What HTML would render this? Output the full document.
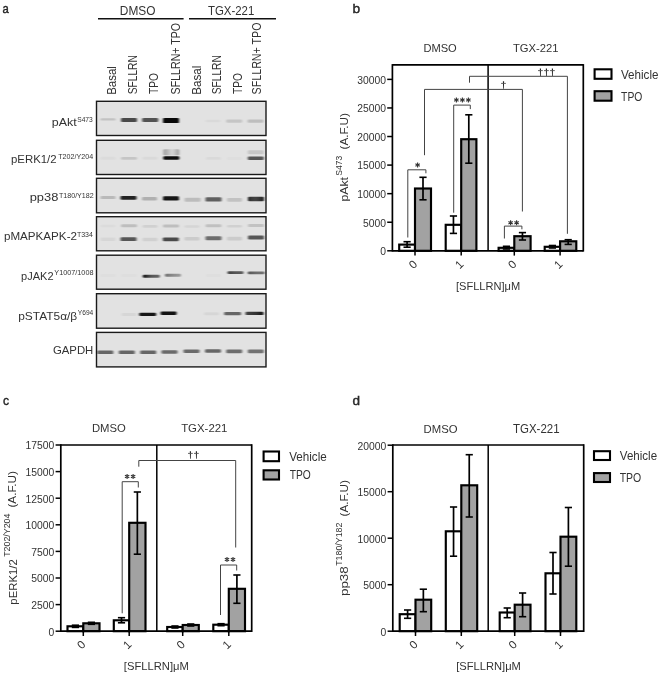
<!DOCTYPE html>
<html><head><meta charset="utf-8"><title>Figure</title>
<style>
html,body{margin:0;padding:0;background:#fff;width:660px;height:675px;overflow:hidden;}
svg{display:block;will-change:transform;}
text{font-family:"Liberation Sans",sans-serif;fill:#333;}
</style></head><body>
<svg width="660" height="675" viewBox="0 0 660 675">
<defs><filter id="bl" x="-30%" y="-100%" width="160%" height="300%"><feGaussianBlur stdDeviation="0.9 0.65"/></filter></defs>
<rect width="660" height="675" fill="#fff"/>
<text x="2.55" y="12.70" font-size="12.59" textLength="6.26" lengthAdjust="spacingAndGlyphs" stroke="#111" stroke-width="0.4" fill="#111">a</text>
<text x="119.85" y="15.00" font-size="12.29" textLength="35.65" lengthAdjust="spacingAndGlyphs">DMSO</text>
<text x="207.97" y="15.20" font-size="12.86" textLength="46.32" lengthAdjust="spacingAndGlyphs">TGX-221</text>
<line x1="98" y1="18.8" x2="183.6" y2="18.8" stroke="#111" stroke-width="1.5"/>
<line x1="189" y1="18.8" x2="276" y2="18.8" stroke="#111" stroke-width="1.5"/>
<text transform="translate(116.40,94.82) rotate(-90)" font-size="12.20" textLength="28.68" lengthAdjust="spacingAndGlyphs">Basal</text>
<text transform="translate(137.30,94.36) rotate(-90)" font-size="12.20" textLength="39.23" lengthAdjust="spacingAndGlyphs">SFLLRN</text>
<text transform="translate(158.00,94.10) rotate(-90)" font-size="12.20" textLength="20.97" lengthAdjust="spacingAndGlyphs">TPO</text>
<text transform="translate(179.80,94.38) rotate(-90)" font-size="12.20" textLength="71.50" lengthAdjust="spacingAndGlyphs">SFLLRN+ TPO</text>
<text transform="translate(201.10,94.83) rotate(-90)" font-size="12.20" textLength="29.11" lengthAdjust="spacingAndGlyphs">Basal</text>
<text transform="translate(221.30,94.36) rotate(-90)" font-size="12.20" textLength="39.23" lengthAdjust="spacingAndGlyphs">SFLLRN</text>
<text transform="translate(241.70,94.10) rotate(-90)" font-size="12.20" textLength="20.97" lengthAdjust="spacingAndGlyphs">TPO</text>
<text transform="translate(261.20,94.38) rotate(-90)" font-size="12.20" textLength="71.90" lengthAdjust="spacingAndGlyphs">SFLLRN+ TPO</text>
<rect x="96.5" y="101.3" width="169.5" height="34.2" fill="#e2e2e2" stroke="#1a1a1a" stroke-width="1.4"/>
<rect x="96.5" y="140.3" width="169.5" height="34.19999999999999" fill="#e2e2e2" stroke="#1a1a1a" stroke-width="1.4"/>
<rect x="96.5" y="178.3" width="169.5" height="34.5" fill="#e2e2e2" stroke="#1a1a1a" stroke-width="1.4"/>
<rect x="96.5" y="216.7" width="169.5" height="34.10000000000002" fill="#e2e2e2" stroke="#1a1a1a" stroke-width="1.4"/>
<rect x="96.5" y="255.2" width="169.5" height="34.0" fill="#e2e2e2" stroke="#1a1a1a" stroke-width="1.4"/>
<rect x="96.5" y="293.7" width="169.5" height="34.5" fill="#e2e2e2" stroke="#1a1a1a" stroke-width="1.4"/>
<rect x="96.5" y="332.4" width="169.5" height="34.5" fill="#e2e2e2" stroke="#1a1a1a" stroke-width="1.4"/>
<rect x="100.5" y="118.2" width="15.0" height="2.4" rx="1.2" fill="#000" fill-opacity="0.14" filter="url(#bl)"/>
<rect x="121.0" y="118.1" width="16.0" height="3.8" rx="1.2" fill="#000" fill-opacity="0.68" filter="url(#bl)"/>
<rect x="142.2" y="118.1" width="16.0" height="3.8" rx="1.2" fill="#000" fill-opacity="0.64" filter="url(#bl)"/>
<rect x="163.0" y="118.1" width="16.0" height="5.0" rx="1.2" fill="#000" fill-opacity="0.97" filter="url(#bl)"/>
<rect x="205.5" y="119.8" width="15.0" height="2.5" rx="1.2" fill="#000" fill-opacity="0.04" filter="url(#bl)"/>
<rect x="226.2" y="119.6" width="16.0" height="3.2" rx="1.2" fill="#000" fill-opacity="0.13" filter="url(#bl)"/>
<rect x="247.5" y="119.6" width="16.0" height="3.2" rx="1.2" fill="#000" fill-opacity="0.16" filter="url(#bl)"/>
<rect x="100.5" y="156.8" width="15.0" height="3.0" rx="1.2" fill="#000" fill-opacity="0.03" filter="url(#bl)"/>
<rect x="121.0" y="157.0" width="16.0" height="2.8" rx="1.2" fill="#000" fill-opacity="0.13" filter="url(#bl)"/>
<rect x="142.5" y="156.8" width="15.0" height="3.0" rx="1.2" fill="#000" fill-opacity="0.04" filter="url(#bl)"/>
<rect x="163.3" y="156.2" width="16.0" height="3.6" rx="1.2" fill="#000" fill-opacity="0.95" filter="url(#bl)"/>
<linearGradient id="g1"><stop offset="0" stop-color="#000" stop-opacity="0.3"/><stop offset="0.35" stop-color="#000" stop-opacity="0.15"/><stop offset="0.55" stop-color="#000" stop-opacity="0.05"/><stop offset="0.75" stop-color="#000" stop-opacity="0.15"/><stop offset="1" stop-color="#000" stop-opacity="0.3"/></linearGradient>
<rect x="163.3" y="149.3" width="16.0" height="6.0" rx="1.2" fill="url(#g1)" filter="url(#bl)"/>
<rect x="206.0" y="157.0" width="15.0" height="2.8" rx="1.2" fill="#000" fill-opacity="0.04" filter="url(#bl)"/>
<rect x="227.0" y="156.9" width="15.0" height="3.0" rx="1.2" fill="#000" fill-opacity="0.02" filter="url(#bl)"/>
<rect x="247.8" y="156.5" width="16.0" height="3.4" rx="1.2" fill="#000" fill-opacity="0.62" filter="url(#bl)"/>
<rect x="247.8" y="150.3" width="16.0" height="4.0" rx="1.2" fill="#000" fill-opacity="0.12" filter="url(#bl)"/>
<rect x="100.5" y="196.1" width="15.0" height="3.0" rx="1.2" fill="#000" fill-opacity="0.18" filter="url(#bl)"/>
<rect x="120.5" y="195.9" width="16.0" height="3.8" rx="1.2" fill="#000" fill-opacity="0.85" filter="url(#bl)"/>
<rect x="142.0" y="197.1" width="15.0" height="3.4" rx="1.2" fill="#000" fill-opacity="0.22" filter="url(#bl)"/>
<rect x="163.0" y="196.3" width="16.0" height="4.2" rx="1.2" fill="#000" fill-opacity="0.90" filter="url(#bl)"/>
<rect x="184.6" y="197.8" width="16.0" height="4.0" rx="1.2" fill="#000" fill-opacity="0.17" filter="url(#bl)"/>
<rect x="205.5" y="197.2" width="16.0" height="4.4" rx="1.2" fill="#000" fill-opacity="0.58" filter="url(#bl)"/>
<rect x="227.0" y="197.9" width="15.0" height="3.8" rx="1.2" fill="#000" fill-opacity="0.14" filter="url(#bl)"/>
<linearGradient id="g2"><stop offset="0" stop-color="#000" stop-opacity="0.9"/><stop offset="0.15" stop-color="#000" stop-opacity="0.75"/><stop offset="0.5" stop-color="#000" stop-opacity="0.7"/><stop offset="1" stop-color="#000" stop-opacity="0.85"/></linearGradient>
<rect x="248.0" y="196.7" width="16.0" height="4.6" rx="1.2" fill="url(#g2)" filter="url(#bl)"/>
<rect x="100.5" y="224.7" width="15.0" height="2.6" rx="1.2" fill="#000" fill-opacity="0.03" filter="url(#bl)"/>
<rect x="121.0" y="224.3" width="16.0" height="3.0" rx="1.2" fill="#000" fill-opacity="0.16" filter="url(#bl)"/>
<rect x="142.5" y="225.1" width="15.0" height="2.6" rx="1.2" fill="#000" fill-opacity="0.08" filter="url(#bl)"/>
<rect x="163.0" y="224.5" width="16.0" height="3.0" rx="1.2" fill="#000" fill-opacity="0.16" filter="url(#bl)"/>
<rect x="184.5" y="225.2" width="15.0" height="2.6" rx="1.2" fill="#000" fill-opacity="0.06" filter="url(#bl)"/>
<rect x="205.5" y="224.3" width="16.0" height="3.0" rx="1.2" fill="#000" fill-opacity="0.15" filter="url(#bl)"/>
<rect x="227.0" y="224.9" width="15.0" height="2.6" rx="1.2" fill="#000" fill-opacity="0.08" filter="url(#bl)"/>
<rect x="248.0" y="224.1" width="16.0" height="3.0" rx="1.2" fill="#000" fill-opacity="0.14" filter="url(#bl)"/>
<rect x="100.5" y="237.6" width="15.0" height="3.4" rx="1.2" fill="#000" fill-opacity="0.05" filter="url(#bl)"/>
<rect x="120.5" y="237.3" width="16.0" height="3.8" rx="1.2" fill="#000" fill-opacity="0.62" filter="url(#bl)"/>
<rect x="142.5" y="237.8" width="15.0" height="3.4" rx="1.2" fill="#000" fill-opacity="0.08" filter="url(#bl)"/>
<rect x="162.8" y="237.4" width="16.0" height="3.8" rx="1.2" fill="#000" fill-opacity="0.68" filter="url(#bl)"/>
<rect x="184.5" y="237.0" width="15.0" height="3.6" rx="1.2" fill="#000" fill-opacity="0.10" filter="url(#bl)"/>
<rect x="205.5" y="236.3" width="16.0" height="4.0" rx="1.2" fill="#000" fill-opacity="0.52" filter="url(#bl)"/>
<rect x="227.0" y="236.8" width="15.0" height="3.6" rx="1.2" fill="#000" fill-opacity="0.10" filter="url(#bl)"/>
<rect x="248.0" y="235.6" width="16.0" height="3.8" rx="1.2" fill="#000" fill-opacity="0.62" filter="url(#bl)"/>
<rect x="100.5" y="274.0" width="15.0" height="3.0" rx="1.2" fill="#000" fill-opacity="0.02" filter="url(#bl)"/>
<rect x="121.5" y="274.0" width="15.0" height="3.0" rx="1.2" fill="#000" fill-opacity="0.02" filter="url(#bl)"/>
<linearGradient id="g3"><stop offset="0" stop-color="#000" stop-opacity="0.95"/><stop offset="0.2" stop-color="#000" stop-opacity="0.8"/><stop offset="0.5" stop-color="#000" stop-opacity="0.62"/><stop offset="1" stop-color="#000" stop-opacity="0.55"/></linearGradient>
<rect x="142.8" y="274.8" width="17.0" height="2.9" rx="1.2" fill="url(#g3)" filter="url(#bl)"/>
<linearGradient id="g4"><stop offset="0" stop-color="#000" stop-opacity="0.5"/><stop offset="0.5" stop-color="#000" stop-opacity="0.38"/><stop offset="1" stop-color="#000" stop-opacity="0.3"/></linearGradient>
<rect x="165.0" y="273.7" width="16.0" height="3.0" rx="1.2" fill="url(#g4)" filter="url(#bl)"/>
<rect x="206.0" y="274.0" width="15.0" height="3.0" rx="1.2" fill="#000" fill-opacity="0.02" filter="url(#bl)"/>
<linearGradient id="g5"><stop offset="0" stop-color="#000" stop-opacity="0.72"/><stop offset="0.5" stop-color="#000" stop-opacity="0.62"/><stop offset="1" stop-color="#000" stop-opacity="0.6"/></linearGradient>
<rect x="227.5" y="271.2" width="16.0" height="2.8" rx="1.2" fill="url(#g5)" filter="url(#bl)"/>
<linearGradient id="g6"><stop offset="0" stop-color="#000" stop-opacity="0.62"/><stop offset="0.5" stop-color="#000" stop-opacity="0.52"/><stop offset="1" stop-color="#000" stop-opacity="0.5"/></linearGradient>
<rect x="247.7" y="271.4" width="17.0" height="2.8" rx="1.2" fill="url(#g6)" filter="url(#bl)"/>
<rect x="121.5" y="312.9" width="15.0" height="3.0" rx="1.2" fill="#000" fill-opacity="0.05" filter="url(#bl)"/>
<rect x="139.2" y="312.7" width="17.0" height="3.2" rx="1.2" fill="#000" fill-opacity="0.90" filter="url(#bl)"/>
<rect x="160.6" y="311.6" width="16.0" height="3.4" rx="1.2" fill="#000" fill-opacity="0.92" filter="url(#bl)"/>
<rect x="204.0" y="312.3" width="15.0" height="3.0" rx="1.2" fill="#000" fill-opacity="0.05" filter="url(#bl)"/>
<rect x="224.1" y="312.0" width="17.0" height="3.2" rx="1.2" fill="#000" fill-opacity="0.55" filter="url(#bl)"/>
<linearGradient id="g7"><stop offset="0" stop-color="#000" stop-opacity="0.7"/><stop offset="0.6" stop-color="#000" stop-opacity="0.78"/><stop offset="1" stop-color="#000" stop-opacity="0.92"/></linearGradient>
<rect x="245.5" y="311.7" width="18.0" height="3.4" rx="1.2" fill="url(#g7)" filter="url(#bl)"/>
<rect x="97.3" y="350.5" width="16.0" height="3.6" rx="1.2" fill="#000" fill-opacity="0.55" filter="url(#bl)"/>
<rect x="118.8" y="350.5" width="16.0" height="3.6" rx="1.2" fill="#000" fill-opacity="0.55" filter="url(#bl)"/>
<rect x="140.2" y="350.5" width="16.0" height="3.6" rx="1.2" fill="#000" fill-opacity="0.55" filter="url(#bl)"/>
<rect x="161.5" y="350.2" width="16.0" height="3.6" rx="1.2" fill="#000" fill-opacity="0.53" filter="url(#bl)"/>
<rect x="183.5" y="349.4" width="16.0" height="3.6" rx="1.2" fill="#000" fill-opacity="0.53" filter="url(#bl)"/>
<rect x="205.0" y="349.2" width="16.0" height="3.6" rx="1.2" fill="#000" fill-opacity="0.55" filter="url(#bl)"/>
<rect x="226.2" y="349.6" width="16.0" height="3.6" rx="1.2" fill="#000" fill-opacity="0.52" filter="url(#bl)"/>
<rect x="247.8" y="349.6" width="16.0" height="3.6" rx="1.2" fill="#000" fill-opacity="0.50" filter="url(#bl)"/>
<text x="51.89" y="125.80" font-size="11.80" textLength="24.88" lengthAdjust="spacingAndGlyphs">pAkt</text>
<text x="77.20" y="122.00" font-size="7.60" textLength="15.57" lengthAdjust="spacingAndGlyphs">S473</text>
<text x="10.96" y="162.70" font-size="11.80" textLength="45.64" lengthAdjust="spacingAndGlyphs">pERK1/2</text>
<text x="58.26" y="158.70" font-size="7.60" textLength="34.88" lengthAdjust="spacingAndGlyphs">T202/Y204</text>
<text x="29.66" y="200.80" font-size="11.80" textLength="28.65" lengthAdjust="spacingAndGlyphs">pp38</text>
<text x="58.96" y="197.50" font-size="7.60" textLength="34.72" lengthAdjust="spacingAndGlyphs">T180/Y182</text>
<text x="3.94" y="240.30" font-size="11.80" textLength="73.04" lengthAdjust="spacingAndGlyphs">pMAPKAPK-2</text>
<text x="76.96" y="236.60" font-size="7.60" textLength="15.95" lengthAdjust="spacingAndGlyphs">T334</text>
<text x="21.08" y="279.80" font-size="11.80" textLength="32.48" lengthAdjust="spacingAndGlyphs">pJAK2</text>
<text x="54.32" y="275.20" font-size="7.60" textLength="39.17" lengthAdjust="spacingAndGlyphs">Y1007/1008</text>
<text x="18.23" y="319.80" font-size="11.80" textLength="58.96" lengthAdjust="spacingAndGlyphs">pSTAT5α/β</text>
<text x="77.83" y="315.40" font-size="7.60" textLength="15.47" lengthAdjust="spacingAndGlyphs">Y694</text>
<text x="52.93" y="354.20" font-size="11.80" textLength="40.39" lengthAdjust="spacingAndGlyphs">GAPDH</text>
<rect x="399.2" y="244.6" width="15.800000000000011" height="6.200000000000017" fill="#fff" stroke="#000" stroke-width="2.15"/>
<rect x="445.7" y="224.8" width="15.5" height="26.0" fill="#fff" stroke="#000" stroke-width="2.15"/>
<rect x="498.6" y="247.8" width="15.699999999999932" height="3.0" fill="#fff" stroke="#000" stroke-width="2.15"/>
<rect x="544.7" y="246.8" width="15.399999999999977" height="4.0" fill="#fff" stroke="#000" stroke-width="2.15"/>
<rect x="415" y="188.5" width="16" height="62.30000000000001" fill="#a2a2a2" stroke="#000" stroke-width="2.15"/>
<rect x="461.2" y="139.2" width="15.199999999999989" height="111.60000000000002" fill="#a2a2a2" stroke="#000" stroke-width="2.15"/>
<rect x="514.3" y="236.2" width="16.300000000000068" height="14.600000000000023" fill="#a2a2a2" stroke="#000" stroke-width="2.15"/>
<rect x="560.1" y="241.3" width="16.199999999999932" height="9.5" fill="#a2a2a2" stroke="#000" stroke-width="2.15"/>
<line x1="407.1" y1="241.7" x2="407.1" y2="247.2" stroke="#000" stroke-width="1.7"/>
<line x1="403.5" y1="241.7" x2="410.70000000000005" y2="241.7" stroke="#000" stroke-width="1.6"/>
<line x1="403.5" y1="247.2" x2="410.70000000000005" y2="247.2" stroke="#000" stroke-width="1.6"/>
<line x1="453.45" y1="216.0" x2="453.45" y2="233.4" stroke="#000" stroke-width="1.7"/>
<line x1="449.84999999999997" y1="216.0" x2="457.05" y2="216.0" stroke="#000" stroke-width="1.6"/>
<line x1="449.84999999999997" y1="233.4" x2="457.05" y2="233.4" stroke="#000" stroke-width="1.6"/>
<line x1="506.45" y1="246.3" x2="506.45" y2="249.0" stroke="#000" stroke-width="1.7"/>
<line x1="502.84999999999997" y1="246.3" x2="510.05" y2="246.3" stroke="#000" stroke-width="1.6"/>
<line x1="502.84999999999997" y1="249.0" x2="510.05" y2="249.0" stroke="#000" stroke-width="1.6"/>
<line x1="552.4000000000001" y1="245.5" x2="552.4000000000001" y2="248.0" stroke="#000" stroke-width="1.7"/>
<line x1="548.8000000000001" y1="245.5" x2="556.0000000000001" y2="245.5" stroke="#000" stroke-width="1.6"/>
<line x1="548.8000000000001" y1="248.0" x2="556.0000000000001" y2="248.0" stroke="#000" stroke-width="1.6"/>
<line x1="423.0" y1="177.3" x2="423.0" y2="199.8" stroke="#000" stroke-width="1.7"/>
<line x1="419.4" y1="177.3" x2="426.6" y2="177.3" stroke="#000" stroke-width="1.6"/>
<line x1="419.4" y1="199.8" x2="426.6" y2="199.8" stroke="#000" stroke-width="1.6"/>
<line x1="468.79999999999995" y1="114.8" x2="468.79999999999995" y2="163.2" stroke="#000" stroke-width="1.7"/>
<line x1="465.19999999999993" y1="114.8" x2="472.4" y2="114.8" stroke="#000" stroke-width="1.6"/>
<line x1="465.19999999999993" y1="163.2" x2="472.4" y2="163.2" stroke="#000" stroke-width="1.6"/>
<line x1="522.45" y1="232.6" x2="522.45" y2="240.0" stroke="#000" stroke-width="1.7"/>
<line x1="518.85" y1="232.6" x2="526.0500000000001" y2="232.6" stroke="#000" stroke-width="1.6"/>
<line x1="518.85" y1="240.0" x2="526.0500000000001" y2="240.0" stroke="#000" stroke-width="1.6"/>
<line x1="568.2" y1="239.7" x2="568.2" y2="244.4" stroke="#000" stroke-width="1.7"/>
<line x1="564.6" y1="239.7" x2="571.8000000000001" y2="239.7" stroke="#000" stroke-width="1.6"/>
<line x1="564.6" y1="244.4" x2="571.8000000000001" y2="244.4" stroke="#000" stroke-width="1.6"/>
<line x1="392.4" y1="64.9" x2="583.3" y2="64.9" stroke="#000" stroke-width="1.7"/>
<line x1="392.4" y1="250.8" x2="583.3" y2="250.8" stroke="#000" stroke-width="1.7"/>
<line x1="392.4" y1="64.10000000000001" x2="392.4" y2="251.60000000000002" stroke="#000" stroke-width="1.7"/>
<line x1="583.3" y1="64.10000000000001" x2="583.3" y2="251.60000000000002" stroke="#000" stroke-width="1.7"/>
<line x1="488.1" y1="64.9" x2="488.1" y2="250.8" stroke="#000" stroke-width="1.5"/>
<line x1="387.2" y1="250.8" x2="392.4" y2="250.8" stroke="#000" stroke-width="1.5"/>
<text x="380.22" y="255.20" font-size="10.90" textLength="5.76" lengthAdjust="spacingAndGlyphs">0</text>
<line x1="387.2" y1="222.23000000000002" x2="392.4" y2="222.23000000000002" stroke="#000" stroke-width="1.5"/>
<text x="362.92" y="226.63" font-size="10.90" textLength="23.04" lengthAdjust="spacingAndGlyphs">5000</text>
<line x1="387.2" y1="193.66000000000003" x2="392.4" y2="193.66000000000003" stroke="#000" stroke-width="1.5"/>
<text x="357.18" y="198.06" font-size="10.90" textLength="28.80" lengthAdjust="spacingAndGlyphs">10000</text>
<line x1="387.2" y1="165.09" x2="392.4" y2="165.09" stroke="#000" stroke-width="1.5"/>
<text x="357.18" y="169.49" font-size="10.90" textLength="28.80" lengthAdjust="spacingAndGlyphs">15000</text>
<line x1="387.2" y1="136.52" x2="392.4" y2="136.52" stroke="#000" stroke-width="1.5"/>
<text x="357.18" y="140.92" font-size="10.90" textLength="28.80" lengthAdjust="spacingAndGlyphs">20000</text>
<line x1="387.2" y1="107.95000000000002" x2="392.4" y2="107.95000000000002" stroke="#000" stroke-width="1.5"/>
<text x="357.18" y="112.35" font-size="10.90" textLength="28.80" lengthAdjust="spacingAndGlyphs">25000</text>
<line x1="387.2" y1="79.38" x2="392.4" y2="79.38" stroke="#000" stroke-width="1.5"/>
<text x="357.18" y="83.78" font-size="10.90" textLength="28.80" lengthAdjust="spacingAndGlyphs">30000</text>
<line x1="415" y1="250.8" x2="415" y2="255.60000000000002" stroke="#000" stroke-width="1.5"/>
<text x="413.00" y="264.30" font-size="11.5" text-anchor="middle" dominant-baseline="central" transform="rotate(-45 413.00 264.30)">0</text>
<line x1="461.2" y1="250.8" x2="461.2" y2="255.60000000000002" stroke="#000" stroke-width="1.5"/>
<text x="459.20" y="264.30" font-size="11.5" text-anchor="middle" dominant-baseline="central" transform="rotate(-45 459.20 264.30)">1</text>
<line x1="514.3" y1="250.8" x2="514.3" y2="255.60000000000002" stroke="#000" stroke-width="1.5"/>
<text x="512.30" y="264.30" font-size="11.5" text-anchor="middle" dominant-baseline="central" transform="rotate(-45 512.30 264.30)">0</text>
<line x1="560.1" y1="250.8" x2="560.1" y2="255.60000000000002" stroke="#000" stroke-width="1.5"/>
<text x="558.10" y="264.30" font-size="11.5" text-anchor="middle" dominant-baseline="central" transform="rotate(-45 558.10 264.30)">1</text>
<rect x="594.6" y="69.3" width="16.899999999999977" height="9.5" fill="#fff" stroke="#000" stroke-width="2.1"/>
<rect x="594.6" y="91.2" width="16.899999999999977" height="9.5" fill="#a2a2a2" stroke="#000" stroke-width="2.1"/>
<polyline points="407.8,237.5 407.8,169.8 425.9,169.8 425.9,173.3" fill="none" stroke="#444" stroke-width="1"/>
<path d="M417.60,162.50V167.50M415.43,163.75L419.77,166.25M415.43,166.25L419.77,163.75" stroke="#333" stroke-width="1.1" fill="none"/>
<polyline points="453.7,212.7 453.7,105.1 470.3,105.1 470.3,109.1" fill="none" stroke="#444" stroke-width="1"/>
<path d="M456.40,97.50V102.50M454.23,98.75L458.57,101.25M454.23,101.25L458.57,98.75" stroke="#333" stroke-width="1.1" fill="none"/>
<path d="M462.40,97.50V102.50M460.23,98.75L464.57,101.25M460.23,101.25L464.57,98.75" stroke="#333" stroke-width="1.1" fill="none"/>
<path d="M468.40,97.50V102.50M466.23,98.75L470.57,101.25M466.23,101.25L470.57,98.75" stroke="#333" stroke-width="1.1" fill="none"/>
<polyline points="424.5,155.2 424.5,89.4 522.4,89.4 522.4,211.5" fill="none" stroke="#444" stroke-width="1"/>
<path d="M502.90,81.20L504.10,81.20L503.85,88.80L503.15,88.80Z" fill="#222"/>
<line x1="501.10" y1="83.40" x2="505.90" y2="83.40" stroke="#555" stroke-width="0.9"/>
<polyline points="469.5,82.7 469.5,76.3 567.4,76.3 567.4,233.8" fill="none" stroke="#444" stroke-width="1"/>
<path d="M539.80,68.40L541.00,68.40L540.75,76.00L540.05,76.00Z" fill="#222"/>
<line x1="538.00" y1="70.60" x2="542.80" y2="70.60" stroke="#555" stroke-width="0.9"/>
<path d="M545.80,68.40L547.00,68.40L546.75,76.00L546.05,76.00Z" fill="#222"/>
<line x1="544.00" y1="70.60" x2="548.80" y2="70.60" stroke="#555" stroke-width="0.9"/>
<path d="M551.80,68.40L553.00,68.40L552.75,76.00L552.05,76.00Z" fill="#222"/>
<line x1="550.00" y1="70.60" x2="554.80" y2="70.60" stroke="#555" stroke-width="0.9"/>
<polyline points="504.4,238.5 504.4,226.1 521.9,226.1 521.9,229.3" fill="none" stroke="#444" stroke-width="1"/>
<path d="M510.60,220.30V225.30M508.43,221.55L512.77,224.05M508.43,224.05L512.77,221.55" stroke="#333" stroke-width="1.1" fill="none"/>
<path d="M516.60,220.30V225.30M514.43,221.55L518.77,224.05M514.43,224.05L518.77,221.55" stroke="#333" stroke-width="1.1" fill="none"/>
<text x="352.40" y="12.70" font-size="13.38" textLength="7.66" lengthAdjust="spacingAndGlyphs" stroke="#111" stroke-width="0.4" fill="#111">b</text>
<text x="423.41" y="51.60" font-size="11.14" textLength="33.35" lengthAdjust="spacingAndGlyphs">DMSO</text>
<text x="512.98" y="51.75" font-size="11.50" textLength="45.56" lengthAdjust="spacingAndGlyphs">TGX-221</text>
<text x="620.94" y="79.00" font-size="12.00" textLength="37.58" lengthAdjust="spacingAndGlyphs">Vehicle</text>
<text x="621.09" y="100.60" font-size="12.43" textLength="21.28" lengthAdjust="spacingAndGlyphs">TPO</text>
<text x="455.92" y="289.60" font-size="11.60" textLength="64.31" lengthAdjust="spacingAndGlyphs">[SFLLRN]μM</text>
<text transform="translate(347.70,201.60) rotate(-90)" font-size="11.60" textLength="24.57" lengthAdjust="spacingAndGlyphs">pAkt</text>
<text transform="translate(341.80,175.68) rotate(-90)" font-size="8.20" textLength="19.93" lengthAdjust="spacingAndGlyphs">S473</text>
<text transform="translate(348.10,149.40) rotate(-90)" font-size="11.60" textLength="36.21" lengthAdjust="spacingAndGlyphs">(A.F.U)</text>
<rect x="67.5" y="626.3" width="15.799999999999997" height="4.900000000000091" fill="#fff" stroke="#000" stroke-width="2.15"/>
<rect x="113.8" y="620.3" width="15.399999999999991" height="10.900000000000091" fill="#fff" stroke="#000" stroke-width="2.15"/>
<rect x="167.2" y="627.0" width="15.5" height="4.2000000000000455" fill="#fff" stroke="#000" stroke-width="2.15"/>
<rect x="213.3" y="624.7" width="15.5" height="6.5" fill="#fff" stroke="#000" stroke-width="2.15"/>
<rect x="83.3" y="623.3" width="16.200000000000003" height="7.900000000000091" fill="#a2a2a2" stroke="#000" stroke-width="2.15"/>
<rect x="129.2" y="522.8" width="16.30000000000001" height="108.40000000000009" fill="#a2a2a2" stroke="#000" stroke-width="2.15"/>
<rect x="182.7" y="625.0" width="16.100000000000023" height="6.2000000000000455" fill="#a2a2a2" stroke="#000" stroke-width="2.15"/>
<rect x="228.8" y="588.8" width="16.19999999999999" height="42.40000000000009" fill="#a2a2a2" stroke="#000" stroke-width="2.15"/>
<line x1="75.4" y1="625.2" x2="75.4" y2="627.4" stroke="#000" stroke-width="1.7"/>
<line x1="71.80000000000001" y1="625.2" x2="79.0" y2="625.2" stroke="#000" stroke-width="1.6"/>
<line x1="71.80000000000001" y1="627.4" x2="79.0" y2="627.4" stroke="#000" stroke-width="1.6"/>
<line x1="121.5" y1="617.7" x2="121.5" y2="622.8" stroke="#000" stroke-width="1.7"/>
<line x1="117.9" y1="617.7" x2="125.1" y2="617.7" stroke="#000" stroke-width="1.6"/>
<line x1="117.9" y1="622.8" x2="125.1" y2="622.8" stroke="#000" stroke-width="1.6"/>
<line x1="174.95" y1="626.0" x2="174.95" y2="628.0" stroke="#000" stroke-width="1.7"/>
<line x1="171.35" y1="626.0" x2="178.54999999999998" y2="626.0" stroke="#000" stroke-width="1.6"/>
<line x1="171.35" y1="628.0" x2="178.54999999999998" y2="628.0" stroke="#000" stroke-width="1.6"/>
<line x1="221.05" y1="623.7" x2="221.05" y2="625.7" stroke="#000" stroke-width="1.7"/>
<line x1="217.45000000000002" y1="623.7" x2="224.65" y2="623.7" stroke="#000" stroke-width="1.6"/>
<line x1="217.45000000000002" y1="625.7" x2="224.65" y2="625.7" stroke="#000" stroke-width="1.6"/>
<line x1="91.4" y1="622.3" x2="91.4" y2="624.3" stroke="#000" stroke-width="1.7"/>
<line x1="87.80000000000001" y1="622.3" x2="95.0" y2="622.3" stroke="#000" stroke-width="1.6"/>
<line x1="87.80000000000001" y1="624.3" x2="95.0" y2="624.3" stroke="#000" stroke-width="1.6"/>
<line x1="137.35" y1="492.0" x2="137.35" y2="554.2" stroke="#000" stroke-width="1.7"/>
<line x1="133.75" y1="492.0" x2="140.95" y2="492.0" stroke="#000" stroke-width="1.6"/>
<line x1="133.75" y1="554.2" x2="140.95" y2="554.2" stroke="#000" stroke-width="1.6"/>
<line x1="190.75" y1="624.0" x2="190.75" y2="626.0" stroke="#000" stroke-width="1.7"/>
<line x1="187.15" y1="624.0" x2="194.35" y2="624.0" stroke="#000" stroke-width="1.6"/>
<line x1="187.15" y1="626.0" x2="194.35" y2="626.0" stroke="#000" stroke-width="1.6"/>
<line x1="236.9" y1="575.0" x2="236.9" y2="603.3" stroke="#000" stroke-width="1.7"/>
<line x1="233.3" y1="575.0" x2="240.5" y2="575.0" stroke="#000" stroke-width="1.6"/>
<line x1="233.3" y1="603.3" x2="240.5" y2="603.3" stroke="#000" stroke-width="1.6"/>
<line x1="60.8" y1="445" x2="251.7" y2="445" stroke="#000" stroke-width="1.7"/>
<line x1="60.8" y1="631.2" x2="251.7" y2="631.2" stroke="#000" stroke-width="1.7"/>
<line x1="60.8" y1="444.2" x2="60.8" y2="632.0" stroke="#000" stroke-width="1.7"/>
<line x1="251.7" y1="444.2" x2="251.7" y2="632.0" stroke="#000" stroke-width="1.7"/>
<line x1="156.8" y1="445" x2="156.8" y2="631.2" stroke="#000" stroke-width="1.5"/>
<line x1="55.599999999999994" y1="631.2" x2="60.8" y2="631.2" stroke="#000" stroke-width="1.5"/>
<text x="48.62" y="635.60" font-size="10.90" textLength="5.76" lengthAdjust="spacingAndGlyphs">0</text>
<line x1="55.599999999999994" y1="604.6" x2="60.8" y2="604.6" stroke="#000" stroke-width="1.5"/>
<text x="31.32" y="609.00" font-size="10.90" textLength="23.04" lengthAdjust="spacingAndGlyphs">2500</text>
<line x1="55.599999999999994" y1="578.0" x2="60.8" y2="578.0" stroke="#000" stroke-width="1.5"/>
<text x="31.32" y="582.40" font-size="10.90" textLength="23.04" lengthAdjust="spacingAndGlyphs">5000</text>
<line x1="55.599999999999994" y1="551.4000000000001" x2="60.8" y2="551.4000000000001" stroke="#000" stroke-width="1.5"/>
<text x="31.32" y="555.80" font-size="10.90" textLength="23.04" lengthAdjust="spacingAndGlyphs">7500</text>
<line x1="55.599999999999994" y1="524.8000000000001" x2="60.8" y2="524.8000000000001" stroke="#000" stroke-width="1.5"/>
<text x="25.58" y="529.20" font-size="10.90" textLength="28.80" lengthAdjust="spacingAndGlyphs">10000</text>
<line x1="55.599999999999994" y1="498.20000000000005" x2="60.8" y2="498.20000000000005" stroke="#000" stroke-width="1.5"/>
<text x="25.58" y="502.60" font-size="10.90" textLength="28.80" lengthAdjust="spacingAndGlyphs">12500</text>
<line x1="55.599999999999994" y1="471.6" x2="60.8" y2="471.6" stroke="#000" stroke-width="1.5"/>
<text x="25.58" y="476.00" font-size="10.90" textLength="28.80" lengthAdjust="spacingAndGlyphs">15000</text>
<line x1="55.599999999999994" y1="445.0" x2="60.8" y2="445.0" stroke="#000" stroke-width="1.5"/>
<text x="25.58" y="449.40" font-size="10.90" textLength="28.80" lengthAdjust="spacingAndGlyphs">17500</text>
<line x1="83.3" y1="631.2" x2="83.3" y2="636.0" stroke="#000" stroke-width="1.5"/>
<text x="81.30" y="644.70" font-size="11.5" text-anchor="middle" dominant-baseline="central" transform="rotate(-45 81.30 644.70)">0</text>
<line x1="129.2" y1="631.2" x2="129.2" y2="636.0" stroke="#000" stroke-width="1.5"/>
<text x="127.20" y="644.70" font-size="11.5" text-anchor="middle" dominant-baseline="central" transform="rotate(-45 127.20 644.70)">1</text>
<line x1="182.7" y1="631.2" x2="182.7" y2="636.0" stroke="#000" stroke-width="1.5"/>
<text x="180.70" y="644.70" font-size="11.5" text-anchor="middle" dominant-baseline="central" transform="rotate(-45 180.70 644.70)">0</text>
<line x1="228.8" y1="631.2" x2="228.8" y2="636.0" stroke="#000" stroke-width="1.5"/>
<text x="226.80" y="644.70" font-size="11.5" text-anchor="middle" dominant-baseline="central" transform="rotate(-45 226.80 644.70)">1</text>
<rect x="263.6" y="451.5" width="15.399999999999977" height="9.699999999999989" fill="#fff" stroke="#000" stroke-width="2.1"/>
<rect x="263.6" y="470.3" width="15.399999999999977" height="9.199999999999989" fill="#a2a2a2" stroke="#000" stroke-width="2.1"/>
<polyline points="122.2,613.3 122.2,481.7 138.3,481.7 138.3,487.5" fill="none" stroke="#444" stroke-width="1"/>
<path d="M127.10,474.00V479.00M124.93,475.25L129.27,477.75M124.93,477.75L129.27,475.25" stroke="#333" stroke-width="1.1" fill="none"/>
<path d="M133.10,474.00V479.00M130.93,475.25L135.27,477.75M130.93,477.75L135.27,475.25" stroke="#333" stroke-width="1.1" fill="none"/>
<polyline points="138.8,466.7 138.8,460.5 235.7,460.5 235.7,547.5" fill="none" stroke="#444" stroke-width="1"/>
<path d="M189.80,451.20L191.00,451.20L190.75,458.80L190.05,458.80Z" fill="#222"/>
<line x1="188.00" y1="453.40" x2="192.80" y2="453.40" stroke="#555" stroke-width="0.9"/>
<path d="M195.80,451.20L197.00,451.20L196.75,458.80L196.05,458.80Z" fill="#222"/>
<line x1="194.00" y1="453.40" x2="198.80" y2="453.40" stroke="#555" stroke-width="0.9"/>
<polyline points="220.5,615 220.5,565 236.7,565 236.7,570.5" fill="none" stroke="#444" stroke-width="1"/>
<path d="M227.00,557.10V562.10M224.83,558.35L229.17,560.85M224.83,560.85L229.17,558.35" stroke="#333" stroke-width="1.1" fill="none"/>
<path d="M233.00,557.10V562.10M230.83,558.35L235.17,560.85M230.83,560.85L235.17,558.35" stroke="#333" stroke-width="1.1" fill="none"/>
<text x="3.11" y="404.80" font-size="13.33" textLength="6.09" lengthAdjust="spacingAndGlyphs" stroke="#111" stroke-width="0.4" fill="#111">c</text>
<text x="91.90" y="432.00" font-size="11.43" textLength="33.87" lengthAdjust="spacingAndGlyphs">DMSO</text>
<text x="181.17" y="432.20" font-size="11.71" textLength="46.27" lengthAdjust="spacingAndGlyphs">TGX-221</text>
<text x="289.14" y="461.00" font-size="12.28" textLength="37.58" lengthAdjust="spacingAndGlyphs">Vehicle</text>
<text x="289.69" y="478.80" font-size="12.57" textLength="21.07" lengthAdjust="spacingAndGlyphs">TPO</text>
<text x="123.82" y="669.60" font-size="11.60" textLength="65.03" lengthAdjust="spacingAndGlyphs">[SFLLRN]μM</text>
<text transform="translate(16.70,604.64) rotate(-90)" font-size="11.60" textLength="45.33" lengthAdjust="spacingAndGlyphs">pERK1/2</text>
<text transform="translate(9.80,556.78) rotate(-90)" font-size="9.00" textLength="43.17" lengthAdjust="spacingAndGlyphs">T202/Y204</text>
<text transform="translate(16.40,507.60) rotate(-90)" font-size="11.60" textLength="36.52" lengthAdjust="spacingAndGlyphs">(A.F.U)</text>
<rect x="399.7" y="614.2" width="15.800000000000011" height="17.0" fill="#fff" stroke="#000" stroke-width="2.15"/>
<rect x="445.8" y="531.3" width="15.5" height="99.90000000000009" fill="#fff" stroke="#000" stroke-width="2.15"/>
<rect x="499.7" y="612.5" width="15.000000000000057" height="18.700000000000045" fill="#fff" stroke="#000" stroke-width="2.15"/>
<rect x="545.5" y="573.3" width="15.0" height="57.90000000000009" fill="#fff" stroke="#000" stroke-width="2.15"/>
<rect x="415.5" y="599.7" width="15.699999999999989" height="31.5" fill="#a2a2a2" stroke="#000" stroke-width="2.15"/>
<rect x="461.3" y="485.3" width="15.899999999999977" height="145.90000000000003" fill="#a2a2a2" stroke="#000" stroke-width="2.15"/>
<rect x="514.7" y="604.7" width="15.799999999999955" height="26.5" fill="#a2a2a2" stroke="#000" stroke-width="2.15"/>
<rect x="560.5" y="536.7" width="15.799999999999955" height="94.5" fill="#a2a2a2" stroke="#000" stroke-width="2.15"/>
<line x1="407.6" y1="610.0" x2="407.6" y2="618.3" stroke="#000" stroke-width="1.7"/>
<line x1="404.0" y1="610.0" x2="411.20000000000005" y2="610.0" stroke="#000" stroke-width="1.6"/>
<line x1="404.0" y1="618.3" x2="411.20000000000005" y2="618.3" stroke="#000" stroke-width="1.6"/>
<line x1="453.55" y1="507.0" x2="453.55" y2="556.2" stroke="#000" stroke-width="1.7"/>
<line x1="449.95" y1="507.0" x2="457.15000000000003" y2="507.0" stroke="#000" stroke-width="1.6"/>
<line x1="449.95" y1="556.2" x2="457.15000000000003" y2="556.2" stroke="#000" stroke-width="1.6"/>
<line x1="507.20000000000005" y1="608.0" x2="507.20000000000005" y2="617.7" stroke="#000" stroke-width="1.7"/>
<line x1="503.6" y1="608.0" x2="510.80000000000007" y2="608.0" stroke="#000" stroke-width="1.6"/>
<line x1="503.6" y1="617.7" x2="510.80000000000007" y2="617.7" stroke="#000" stroke-width="1.6"/>
<line x1="553.0" y1="552.5" x2="553.0" y2="594.0" stroke="#000" stroke-width="1.7"/>
<line x1="549.4" y1="552.5" x2="556.6" y2="552.5" stroke="#000" stroke-width="1.6"/>
<line x1="549.4" y1="594.0" x2="556.6" y2="594.0" stroke="#000" stroke-width="1.6"/>
<line x1="423.35" y1="589.2" x2="423.35" y2="611.7" stroke="#000" stroke-width="1.7"/>
<line x1="419.75" y1="589.2" x2="426.95000000000005" y2="589.2" stroke="#000" stroke-width="1.6"/>
<line x1="419.75" y1="611.7" x2="426.95000000000005" y2="611.7" stroke="#000" stroke-width="1.6"/>
<line x1="469.25" y1="454.7" x2="469.25" y2="517.0" stroke="#000" stroke-width="1.7"/>
<line x1="465.65" y1="454.7" x2="472.85" y2="454.7" stroke="#000" stroke-width="1.6"/>
<line x1="465.65" y1="517.0" x2="472.85" y2="517.0" stroke="#000" stroke-width="1.6"/>
<line x1="522.6" y1="593.0" x2="522.6" y2="616.7" stroke="#000" stroke-width="1.7"/>
<line x1="519.0" y1="593.0" x2="526.2" y2="593.0" stroke="#000" stroke-width="1.6"/>
<line x1="519.0" y1="616.7" x2="526.2" y2="616.7" stroke="#000" stroke-width="1.6"/>
<line x1="568.4" y1="507.5" x2="568.4" y2="566.2" stroke="#000" stroke-width="1.7"/>
<line x1="564.8" y1="507.5" x2="572.0" y2="507.5" stroke="#000" stroke-width="1.6"/>
<line x1="564.8" y1="566.2" x2="572.0" y2="566.2" stroke="#000" stroke-width="1.6"/>
<line x1="392.8" y1="445" x2="583.7" y2="445" stroke="#000" stroke-width="1.7"/>
<line x1="392.8" y1="631.2" x2="583.7" y2="631.2" stroke="#000" stroke-width="1.7"/>
<line x1="392.8" y1="444.2" x2="392.8" y2="632.0" stroke="#000" stroke-width="1.7"/>
<line x1="583.7" y1="444.2" x2="583.7" y2="632.0" stroke="#000" stroke-width="1.7"/>
<line x1="488.2" y1="445" x2="488.2" y2="631.2" stroke="#000" stroke-width="1.5"/>
<line x1="387.6" y1="631.2" x2="392.8" y2="631.2" stroke="#000" stroke-width="1.5"/>
<text x="380.62" y="635.60" font-size="10.90" textLength="5.76" lengthAdjust="spacingAndGlyphs">0</text>
<line x1="387.6" y1="584.7" x2="392.8" y2="584.7" stroke="#000" stroke-width="1.5"/>
<text x="363.32" y="589.10" font-size="10.90" textLength="23.04" lengthAdjust="spacingAndGlyphs">5000</text>
<line x1="387.6" y1="538.2" x2="392.8" y2="538.2" stroke="#000" stroke-width="1.5"/>
<text x="357.58" y="542.60" font-size="10.90" textLength="28.80" lengthAdjust="spacingAndGlyphs">10000</text>
<line x1="387.6" y1="491.70000000000005" x2="392.8" y2="491.70000000000005" stroke="#000" stroke-width="1.5"/>
<text x="357.58" y="496.10" font-size="10.90" textLength="28.80" lengthAdjust="spacingAndGlyphs">15000</text>
<line x1="387.6" y1="445.20000000000005" x2="392.8" y2="445.20000000000005" stroke="#000" stroke-width="1.5"/>
<text x="357.58" y="449.60" font-size="10.90" textLength="28.80" lengthAdjust="spacingAndGlyphs">20000</text>
<line x1="415.5" y1="631.2" x2="415.5" y2="636.0" stroke="#000" stroke-width="1.5"/>
<text x="413.50" y="644.70" font-size="11.5" text-anchor="middle" dominant-baseline="central" transform="rotate(-45 413.50 644.70)">0</text>
<line x1="461.3" y1="631.2" x2="461.3" y2="636.0" stroke="#000" stroke-width="1.5"/>
<text x="459.30" y="644.70" font-size="11.5" text-anchor="middle" dominant-baseline="central" transform="rotate(-45 459.30 644.70)">1</text>
<line x1="514.7" y1="631.2" x2="514.7" y2="636.0" stroke="#000" stroke-width="1.5"/>
<text x="512.70" y="644.70" font-size="11.5" text-anchor="middle" dominant-baseline="central" transform="rotate(-45 512.70 644.70)">0</text>
<line x1="560.5" y1="631.2" x2="560.5" y2="636.0" stroke="#000" stroke-width="1.5"/>
<text x="558.50" y="644.70" font-size="11.5" text-anchor="middle" dominant-baseline="central" transform="rotate(-45 558.50 644.70)">1</text>
<rect x="594" y="451.2" width="16" height="8.800000000000011" fill="#fff" stroke="#000" stroke-width="2.1"/>
<rect x="594" y="473.1" width="16" height="8.899999999999977" fill="#a2a2a2" stroke="#000" stroke-width="2.1"/>
<text x="352.46" y="404.80" font-size="13.52" textLength="7.54" lengthAdjust="spacingAndGlyphs" stroke="#111" stroke-width="0.4" fill="#111">d</text>
<text x="423.59" y="432.50" font-size="11.71" textLength="33.97" lengthAdjust="spacingAndGlyphs">DMSO</text>
<text x="512.97" y="432.50" font-size="12.57" textLength="46.57" lengthAdjust="spacingAndGlyphs">TGX-221</text>
<text x="619.84" y="459.90" font-size="11.86" textLength="37.28" lengthAdjust="spacingAndGlyphs">Vehicle</text>
<text x="619.69" y="481.60" font-size="12.43" textLength="21.59" lengthAdjust="spacingAndGlyphs">TPO</text>
<text x="456.22" y="669.60" font-size="11.60" textLength="64.62" lengthAdjust="spacingAndGlyphs">[SFLLRN]μM</text>
<text transform="translate(347.80,596.07) rotate(-90)" font-size="11.60" textLength="29.80" lengthAdjust="spacingAndGlyphs">pp38</text>
<text transform="translate(341.80,565.78) rotate(-90)" font-size="9.00" textLength="43.24" lengthAdjust="spacingAndGlyphs">T180/Y182</text>
<text transform="translate(348.10,516.40) rotate(-90)" font-size="11.60" textLength="36.21" lengthAdjust="spacingAndGlyphs">(A.F.U)</text>
</svg>
</body></html>
